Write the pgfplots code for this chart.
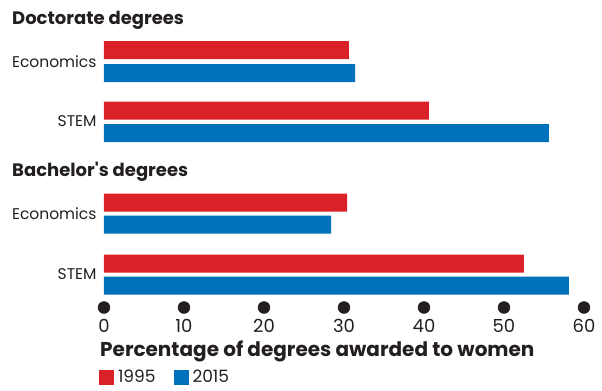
\documentclass[border=0pt]{standalone}
\usepackage{pgfplots}
\pgfplotsset{compat=1.18}
\usepackage{fontspec}
\setmainfont{Poppins}
\definecolor{cred}{RGB}{218,33,40}
\definecolor{cblue}{RGB}{0,114,188}
\definecolor{ink}{RGB}{35,31,32}
\begin{document}
\begin{tikzpicture}
\begin{axis}[
 scale only axis, width=480bp, height=307bp,
 xmin=0, xmax=60, ymin=0, ymax=307, y dir=reverse,
 clip=false,
 axis line style={draw=none},
 tick style={draw=none},
 xtick={0,10,...,60},
 ytick={61.5,121.5,213.5,274.5},
 yticklabels={Economics,STEM,Economics,STEM},
 /pgf/number format/assume math mode=true,
 tick label style={text=ink},
 xticklabel style={font=\fontsize{18bp}{20bp}\selectfont, anchor=center, yshift=-19bp},
 yticklabel style={font=\fontsize{15.5bp}{18bp}\selectfont, xshift=-4bp},
 xlabel={Percentage of degrees awarded to women},
 xlabel style={at={(axis description cs:-0.0083,-0.1600)}, anchor=base west, inner sep=0pt, font=\bfseries\fontsize{20bp}{22bp}\selectfont, text=ink},
 legend style={at={(axis description cs:-0.0104,-0.2280)}, anchor=west, draw=none, fill=none, inner sep=0pt, outer sep=0pt, legend columns=2, font=\fontsize{17bp}{19bp}\selectfont, text=ink, nodes={inner sep=0pt},
   /tikz/every odd column/.append style={column sep=4bp},
   /tikz/every even column/.append style={column sep=18bp}},
 legend image code/.code={\fill[#1] (0bp,-7.5bp) rectangle (15bp,7.5bp);},
]
\addplot[xbar, bar width=18bp, bar shift=0pt, fill=cred, draw=none]
 coordinates {(30.6,50) (40.6,110.5) (30.4,202.7) (52.5,263.5)};
\addlegendentry{1995}
\addplot[xbar, bar width=18bp, bar shift=0pt, fill=cblue, draw=none]
 coordinates {(31.4,73) (55.6,133) (28.4,224.7) (58.1,285.7)};
\addlegendentry{2015}
\addplot[only marks, mark=*, mark size=6bp, ink, forget plot]
 coordinates {(0,307.5) (10,307.5) (20,307.5) (30,307.5) (40,307.5) (50,307.5) (60,307.5)};
\node[anchor=base west, inner sep=0pt, font=\bfseries\fontsize{18bp}{20bp}\selectfont, text=ink] at (axis cs:-11.5,24) {Doctorate degrees};
\node[anchor=base west, inner sep=0pt, font=\bfseries\fontsize{18bp}{20bp}\selectfont, text=ink] at (axis cs:-11.5,176) {Bachelor\textquotesingle s degrees};
\path (axis cs:-13,0) rectangle (axis cs:62.25,391);
\end{axis}
\end{tikzpicture}
\end{document}
